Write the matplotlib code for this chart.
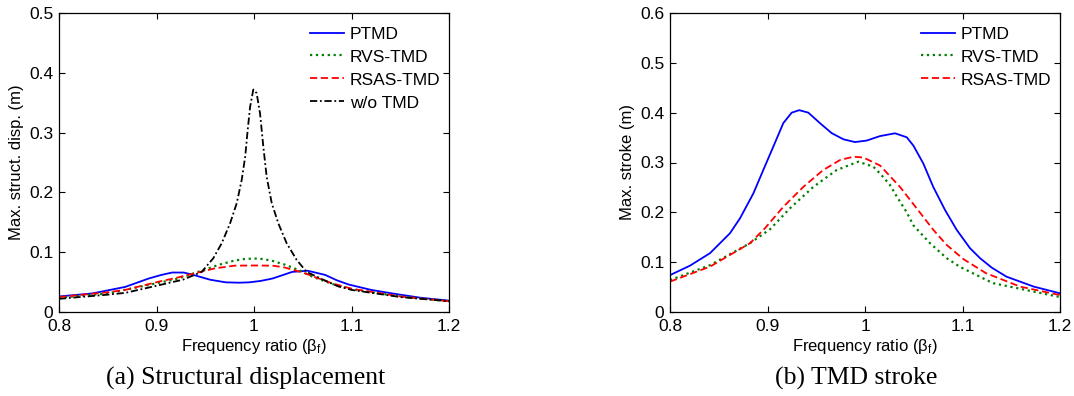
import numpy as np
import matplotlib
matplotlib.use('Agg')
import matplotlib.pyplot as plt

plt.rcParams['font.family'] = ['Liberation Sans', 'DejaVu Sans']
plt.rcParams['mathtext.fontset'] = 'custom'
plt.rcParams['mathtext.rm'] = 'Liberation Sans'
plt.rcParams['mathtext.it'] = 'Liberation Sans:italic'

# (a) structural displacement
b_ptmd_a = [0.80, 0.834, 0.868, 0.892, 0.905, 0.916, 0.928, 0.94, 0.955, 0.971, 0.985, 0.995,
            1.007, 1.019, 1.03, 1.039, 1.055, 1.073, 1.085, 1.097, 1.12, 1.142, 1.17, 1.20]
d_ptmd = [0.026, 0.031, 0.042, 0.056, 0.062, 0.066, 0.066, 0.061, 0.054, 0.0496, 0.049, 0.0496,
          0.052, 0.056, 0.062, 0.067, 0.069, 0.062, 0.053, 0.046, 0.037, 0.031, 0.024, 0.019]

b_rvs_a = [0.80, 0.85, 0.90, 0.92, 0.937, 0.95, 0.964, 0.98, 0.99, 1.00, 1.01, 1.02, 1.032,
           1.046, 1.06, 1.08, 1.10, 1.15, 1.20]
d_rvs = [0.024, 0.031, 0.048, 0.055, 0.064, 0.071, 0.079, 0.086, 0.0885, 0.0895, 0.0885, 0.085,
         0.079, 0.070, 0.059, 0.047, 0.038, 0.026, 0.018]

b_rsas_a = [0.80, 0.85, 0.868, 0.903, 0.92, 0.94, 0.96, 0.98, 1.00, 1.019, 1.03, 1.039, 1.05,
            1.06, 1.08, 1.10, 1.15, 1.20]
d_rsas = [0.025, 0.033, 0.037, 0.051, 0.057, 0.065, 0.073, 0.0775, 0.0778, 0.0775, 0.075, 0.071,
          0.066, 0.060, 0.048, 0.039, 0.026, 0.018]

b_wo = [0.80, 0.85, 0.868, 0.903, 0.927, 0.9463, 0.9583, 0.9669, 0.9754, 0.9823, 0.9874, 0.991,
        0.9935, 0.996, 0.9993, 1.0027, 1.0062, 1.0096, 1.013, 1.0182, 1.025, 1.0335, 1.0438,
        1.054, 1.071, 1.086, 1.10, 1.15, 1.20]
d_wo = [0.022, 0.029, 0.032, 0.045, 0.054, 0.067, 0.090, 0.115, 0.148, 0.182, 0.221, 0.260,
        0.304, 0.343, 0.372, 0.366, 0.332, 0.276, 0.226, 0.182, 0.148, 0.115, 0.087,
        0.067, 0.054, 0.043, 0.037, 0.025, 0.018]

# (b) TMD stroke
b_ptmd_b = [0.80, 0.8205, 0.841, 0.8615, 0.8718, 0.8855, 0.8957, 0.906, 0.9162, 0.9248, 0.9326,
            0.9419, 0.9538, 0.9658, 0.9778, 0.9897, 1.0017, 1.0154, 1.0308, 1.0428, 1.0496,
            1.0598, 1.07, 1.082, 1.094, 1.1077, 1.118, 1.13, 1.145, 1.173, 1.20]
s_ptmd = [0.074, 0.093, 0.118, 0.158, 0.188, 0.238, 0.285, 0.332, 0.379, 0.400, 0.405,
          0.400, 0.379, 0.359, 0.3466, 0.341, 0.344, 0.353, 0.3586, 0.3506, 0.334,
          0.298, 0.251, 0.205, 0.165, 0.128, 0.108, 0.089, 0.071, 0.051, 0.0375]

b_rvs_b = [0.80, 0.841, 0.882, 0.9026, 0.923, 0.947, 0.971, 0.9931, 1.0085, 1.0154, 1.0256,
           1.0325, 1.0428, 1.0496, 1.0667, 1.0838, 1.097, 1.131, 1.20]
s_rvs = [0.064, 0.094, 0.138, 0.166, 0.208, 0.251, 0.285, 0.3016, 0.2916, 0.278, 0.255,
         0.232, 0.200, 0.174, 0.138, 0.108, 0.091, 0.058, 0.030]

b_rsas_b = [0.80, 0.841, 0.882, 0.8974, 0.9162, 0.9367, 0.9572, 0.9744, 0.988, 0.9983, 1.0154,
            1.0359, 1.053, 1.07, 1.0838, 1.101, 1.124, 1.159, 1.20]
s_rsas = [0.061, 0.091, 0.138, 0.168, 0.211, 0.251, 0.285, 0.305, 0.3116, 0.310, 0.294,
          0.251, 0.208, 0.165, 0.1345, 0.106, 0.078, 0.051, 0.034]

xticks = [0.8, 0.9, 1.0, 1.1, 1.2]
xticklabels = ['0.8', '0.9', '1', '1.1', '1.2']


def style_axes(ax, ymax, yticks, ylabel):
    ax.set_xlim(0.8, 1.2)
    ax.set_ylim(0, ymax)
    ax.set_xticks(xticks)
    ax.set_xticklabels(xticklabels)
    ax.set_yticks(yticks)
    ax.set_yticklabels(['0'] + ['%g' % t for t in yticks[1:]])
    ax.tick_params(direction='in', length=4, width=0.8, top=True, right=True, labelsize=12.5)
    ax.tick_params(axis='x', pad=5)
    ax.tick_params(axis='y', pad=4)
    for s in ax.spines.values():
        s.set_linewidth(0.9)
    ax.set_xlabel(r'Frequency ratio (β$_{\mathrm{f}}$)', fontsize=12)
    ax.xaxis.set_label_coords(0.5, -0.117)
    ax.xaxis.label.set_va('center')
    ax.set_ylabel(ylabel, fontsize=12)
    ax.yaxis.set_label_coords(-0.109, 0.5)
    ax.yaxis.label.set_va('center')
    ax.legend(loc='upper left', frameon=False, fontsize=12.5, handlelength=2.0,
              handletextpad=0.3, labelspacing=0.45, borderpad=0, borderaxespad=0,
              bbox_to_anchor=(0.643, 0.955))


W, H = 1074, 396
fig = plt.figure(figsize=(W / 100, H / 100), dpi=100)
ax1 = fig.add_axes([59 / W, (H - 312) / H, 390 / W, 299 / H])
ax2 = fig.add_axes([670 / W, (H - 312) / H, 390 / W, 299 / H])

lw = 1.3
ax1.plot(b_ptmd_a, d_ptmd, '-', color='#0000ff', lw=lw, label='PTMD')
ax1.plot(b_rvs_a, d_rvs, ':', color='#008000', lw=lw + 0.3, label='RVS-TMD')
ax1.plot(b_rsas_a, d_rsas, '--', color='#ff0000', lw=lw, dashes=(4, 2), label='RSAS-TMD')
ax1.plot(b_wo, d_wo, '-.', color='black', lw=lw, dashes=(4, 1.5, 1, 1.5), label='w/o TMD')
style_axes(ax1, 0.5, [0, 0.1, 0.2, 0.3, 0.4, 0.5], 'Max. struct. disp. (m)')

ax2.plot(b_ptmd_b, s_ptmd, '-', color='#0000ff', lw=lw, label='PTMD')
ax2.plot(b_rvs_b, s_rvs, ':', color='#008000', lw=lw + 0.3, label='RVS-TMD')
ax2.plot(b_rsas_b, s_rsas, '--', color='#ff0000', lw=lw, dashes=(4, 2), label='RSAS-TMD')
style_axes(ax2, 0.6, [0, 0.1, 0.2, 0.3, 0.4, 0.5, 0.6], 'Max. stroke (m)')

fig.text(245.5 / W, 1 - 378 / H, '(a) Structural displacement', family='Liberation Serif',
         fontsize=18.5, ha='center', va='center')
fig.text(856 / W, 1 - 378 / H, '(b) TMD stroke', family='Liberation Serif',
         fontsize=18.5, ha='center', va='center')

fig.savefig('out.png', dpi=100)
